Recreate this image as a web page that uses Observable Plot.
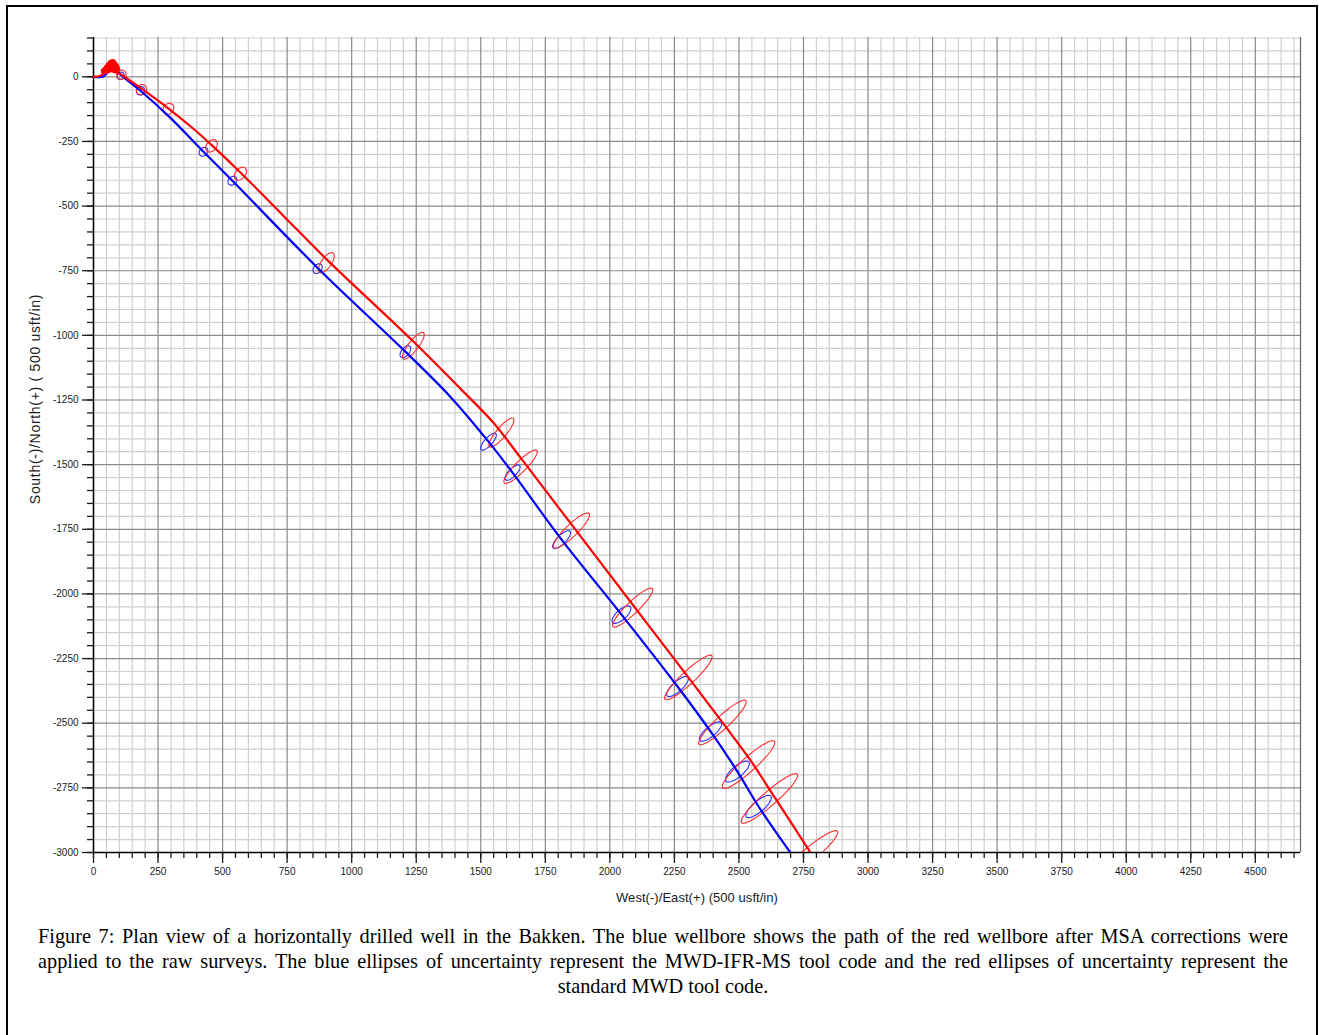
<!DOCTYPE html>
<html><head><meta charset="utf-8">
<script src="https://cdn.jsdelivr.net/npm/d3@7"></script>
<script src="https://cdn.jsdelivr.net/npm/@observablehq/plot@0.6"></script>
<style>
body{margin:0;background:#fff;}
#wrap{position:relative;width:1319px;height:1035px;overflow:hidden;font-family:"Liberation Sans",Arial,sans-serif;background:#fff;}
#border{position:absolute;left:6px;top:5px;width:1312px;height:1070px;border:2px solid #000;box-sizing:border-box;}
#chart{position:absolute;left:0;top:0;}
#ylab{position:absolute;left:35px;top:399px;transform:translate(-50%,-50%) rotate(-90deg);font-size:14px;letter-spacing:0.7px;white-space:nowrap;color:#1a1a1a;}
#xlab{position:absolute;left:697px;top:897px;transform:translate(-50%,-50%);font-size:13px;letter-spacing:0.05px;white-space:nowrap;color:#1a1a1a;}
#cap{position:absolute;left:38px;top:924px;width:1250px;font-family:"Liberation Serif","Times New Roman",serif;font-size:20.3px;line-height:25px;color:#000;}
#cap .j{text-align:justify;text-align-last:justify;}
#cap .c{text-align:center;}
</style>
</head><body>
<div id="wrap">
  <div id="border"></div>
  <div id="chart"></div>
  <div id="ylab">South(-)/North(+) ( 500 usft/in)</div>
  <div id="xlab">West(-)/East(+) (500 usft/in)</div>
  <div id="cap"><div class="j">Figure 7: Plan view of a horizontally drilled well in the Bakken. The blue wellbore shows the path of the red wellbore after MSA corrections were</div><div class="j">applied to the raw surveys. The blue ellipses of uncertainty represent the MWD-IFR-MS tool code and the red ellipses of uncertainty represent the</div><div class="c">standard MWD tool code.</div></div>
</div>
<script>
// ---- axis ticks (usft) ----
const xTickLabels = [0,250,500,750,1000,1250,1500,1750,2000,2250,2500,2750,3000,3250,3500,3750,4000,4250,4500];
const yTickLabels = [0,-250,-500,-750,-1000,-1250,-1500,-1750,-2000,-2250,-2500,-2750,-3000];
const xMinorTicks = d3.range(0, 4675, 50);
const yMinorTicks = d3.range(-3000, 151, 50);
const xDomain = [0, 4675];
const yDomain = [-3000, 152];

// ---- blue wellbore (MSA corrected) ----
const blueEast  = [0, 35, 50, 62, 74, 89, 105, 182, 298, 426, 538, 871, 1208, 1380, 1530, 1623, 1813, 2045, 2262, 2390, 2494, 2576, 2699];
const blueNorth = [0, 0, 12, 31, 35, 23, 8, -54, -159, -290, -402, -742, -1063, -1235, -1411, -1531, -1790, -2080, -2358, -2532, -2687, -2822, -3000];

// ---- red wellbore (raw surveys) ----
const redEast  = [0, 27, 46, 58, 74, 89, 108, 186, 287, 387, 465, 569, 736, 902, 1239, 1421, 1549, 1654, 1855, 2088, 2304, 2436, 2545, 2641, 2777];
const redNorth = [0, 4, 19, 39, 50, 19, 8, -46, -120, -201, -271, -370, -538, -705, -1024, -1206, -1338, -1473, -1736, -2041, -2323, -2497, -2644, -2791, -3000];

// red scribble near the surface location
const redBlobEast  = [42, 50, 56, 62, 68, 74, 80, 86, 90, 84, 76, 66, 58, 62, 72, 78, 70, 54];
const redBlobNorth = [22, 30, 38, 44, 52, 55, 48, 40, 30, 26, 34, 30, 34, 46, 44, 38, 38, 26];

// ---- ellipses of uncertainty: centre, semi-axes (usft), orientation (deg) ----
const redEllEast  = [108, 186, 290, 457, 569, 902, 1239, 1580, 1654, 1851, 2088, 2304, 2436, 2537, 2618, 2769];
const redEllNorth = [8, -50, -124, -267, -375, -719, -1040, -1376, -1508, -1755, -2053, -2323, -2497, -2660, -2791, -3012];
const redEllMajor = [19, 21, 23, 27, 29, 46, 64, 72, 89, 95, 106, 124, 124, 135, 143, 147];
const redEllMinor = [17, 19, 19, 19, 19, 19, 19, 19, 21, 23, 23, 25, 25, 27, 27, 27];
const redEllAngle = [45, 45, 45, 50, 50, 55, 52, 50, 45, 44, 44, 43, 43, 42, 41, 40];

const blueEllEast  = [105, 182, 426, 538, 868, 1208, 1530, 1623, 1813, 2045, 2262, 2390, 2494, 2576];
const blueEllNorth = [4, -54, -290, -402, -742, -1063, -1411, -1531, -1790, -2080, -2358, -2532, -2687, -2822];
const blueEllMajor = [15, 17, 19, 19, 21, 27, 42, 39, 46, 46, 54, 54, 58, 62];
const blueEllMinor = [13, 15, 15, 15, 15, 15, 15, 15, 17, 19, 19, 19, 21, 21];
const blueEllAngle = [45, 45, 45, 45, 50, 50, 48, 45, 45, 42, 42, 40, 40, 40];

// ---- build tables ----
const toPath = (xs, ys) => xs.map((x, i) => ({x, y: ys[i]}));
const bluePath = toPath(blueEast, blueNorth);
const redPath = toPath(redEast, redNorth);
const redBlob = toPath(redBlobEast, redBlobNorth);

function ellipseOutline(cx, cy, a, b, ang) {
  const out = [];
  cx.forEach((x0, i) => {
    const th = ang[i] * Math.PI / 180;
    for (let k = 0; k <= 48; k++) {
      const t = 2 * Math.PI * k / 48;
      out.push({
        id: i,
        x: x0 + a[i] * Math.cos(t) * Math.cos(th) - b[i] * Math.sin(t) * Math.sin(th),
        y: cy[i] + a[i] * Math.cos(t) * Math.sin(th) + b[i] * Math.sin(t) * Math.cos(th)
      });
    }
  });
  return out;
}
const redEll = ellipseOutline(redEllEast, redEllNorth, redEllMajor, redEllMinor, redEllAngle);
const blueEll = ellipseOutline(blueEllEast, blueEllNorth, blueEllMajor, blueEllMinor, blueEllAngle);

const majorX = new Set(xTickLabels);
const majorY = new Set(yTickLabels);

const chart = Plot.plot({
  width: 1319,
  height: 910,
  marginLeft: 93,
  marginRight: 19,
  marginTop: 37,
  marginBottom: 58,
  x: {domain: xDomain, label: null},
  y: {domain: yDomain, label: null},
  style: {fontFamily: "'Liberation Sans', Arial, sans-serif", fontSize: "10px", color: "#1a1a1a", background: "transparent"},
  marks: [
    Plot.ruleX(xMinorTicks.filter(d => !majorX.has(d)), {stroke: "#cfcfcf", strokeWidth: 1.2}),
    Plot.ruleY(yMinorTicks.filter(d => !majorY.has(d)), {stroke: "#cfcfcf", strokeWidth: 1.2}),
    Plot.ruleX(xTickLabels, {stroke: "#8a8a8a", strokeWidth: 1.2}),
    Plot.ruleY(yTickLabels, {stroke: "#8a8a8a", strokeWidth: 1.2}),
    Plot.ruleX([xDomain[1]], {stroke: "#666", strokeWidth: 1.2}),
    Plot.axisX(xMinorTicks, {anchor: "bottom", tickSize: 6, tickFormat: () => "", label: null, strokeWidth: 1.3}),
    Plot.axisX(xTickLabels, {anchor: "bottom", tickSize: 11, tickPadding: 4, tickFormat: d => String(d), label: null, strokeWidth: 1.3}),
    Plot.axisY(yMinorTicks, {anchor: "left", tickSize: 6, tickFormat: () => "", label: null, strokeWidth: 1.3}),
    Plot.axisY(yTickLabels, {anchor: "left", tickSize: 11, tickPadding: 4, tickFormat: d => String(d), label: null, strokeWidth: 1.3}),
    Plot.ruleX([0], {stroke: "#000", strokeWidth: 1.5}),
    Plot.ruleY([-3000], {stroke: "#000", strokeWidth: 1.5}),
    Plot.line(blueEll, {x: "x", y: "y", z: "id", stroke: "#2a2aff", strokeWidth: 1.1, clip: true}),
    Plot.line(redEll, {x: "x", y: "y", z: "id", stroke: "#ff2a2a", strokeWidth: 1.1, clip: true}),
    Plot.line(bluePath, {x: "x", y: "y", stroke: "#0000ff", strokeWidth: 2.2, curve: "catmull-rom", clip: true}),
    Plot.line(redPath, {x: "x", y: "y", stroke: "#ff0000", strokeWidth: 2.2, curve: "catmull-rom", clip: true}),
    Plot.line(redBlob, {x: "x", y: "y", stroke: "#ff0000", strokeWidth: 4, curve: "catmull-rom"}),
    Plot.dot(redBlob, {x: "x", y: "y", fill: "#ff0000", r: 3.5})
  ]
});
document.getElementById("chart").appendChild(chart);
</script>
</body></html>
